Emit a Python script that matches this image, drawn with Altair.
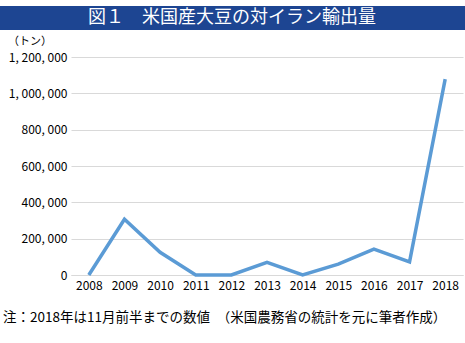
import altair as alt
import pandas as pd

years = ["2008", "2009", "2010", "2011", "2012", "2013", "2014", "2015", "2016", "2017", "2018"]
values = [0, 307000, 125000, 0, 0, 70000, 0, 60000, 142000, 72000, 1078000]

title_text = "図１　米国産大豆の対イラン輸出量"
unit_text = "（トン）"
note_text = "注：2018年は11月前半までの数値　（米国農務省の統計を元に筆者作成）"

df = pd.DataFrame({"year": years, "value": values})
one = pd.DataFrame({"k": [0]})
FONT = "Noto Sans CJK JP"

W, H = 392, 219
PL, PT = 71, 57

line = alt.Chart(df).mark_line(color="#5B9BD5", strokeWidth=3.5).encode(
    x=alt.X("year:O", sort=years, title=None,
            scale=alt.Scale(type="point", padding=0.5),
            axis=alt.Axis(labelAngle=0, ticks=False, domain=True, domainColor="#d9d9d9",
                          labelFontSize=12, labelFont=FONT, labelColor="#000000",
                          labelPadding=5, grid=False)),
    y=alt.Y("value:Q", title=None,
            scale=alt.Scale(domain=[0, 1200000]),
            axis=alt.Axis(values=[0, 200000, 400000, 600000, 800000, 1000000, 1200000],
                          labelExpr="replace(format(datum.value, ','), /,/g, ', ')",
                          ticks=False, domain=False, gridColor="#d9d9d9", gridWidth=1.2,
                          labelFontSize=12, labelFont=FONT, labelColor="#000000",
                          labelPadding=4)),
)

deco = alt.Chart(one)

banner = deco.mark_rect(color="#1D4592", clip=False).encode(
    x=alt.value(-PL), x2=alt.value(465 - PL), y=alt.value(6 - PT), y2=alt.value(30 - PT)
)

title = deco.mark_text(text=title_text, font=FONT, fontSize=18, color="white",
                       fontWeight="normal", align="center", baseline="middle").encode(
    x=alt.value(232 - PL), y=alt.value(18 - PT)
)

unit = deco.mark_text(text=unit_text, font=FONT, fontSize=11, color="black",
                      fontWeight="normal", align="left", baseline="middle").encode(
    x=alt.value(8 - PL), y=alt.value(42 - PT)
)

note = deco.mark_text(text=note_text, font=FONT, fontSize=13.5, color="black",
                      fontWeight="normal", align="left", baseline="middle").encode(
    x=alt.value(3 - PL), y=alt.value(318 - PT)
)

chart = alt.layer(line, banner, title, unit, note).properties(
    width=W, height=H - 1,
    autosize=alt.AutoSizeParams(type="none"),
    padding={"left": PL, "top": PT, "right": 465 - PL - W, "bottom": 343 - PT - H + 1},
    background="white",
).configure_view(stroke=None)

chart.save("out.html", embed_options={"renderer": "svg", "actions": False})
